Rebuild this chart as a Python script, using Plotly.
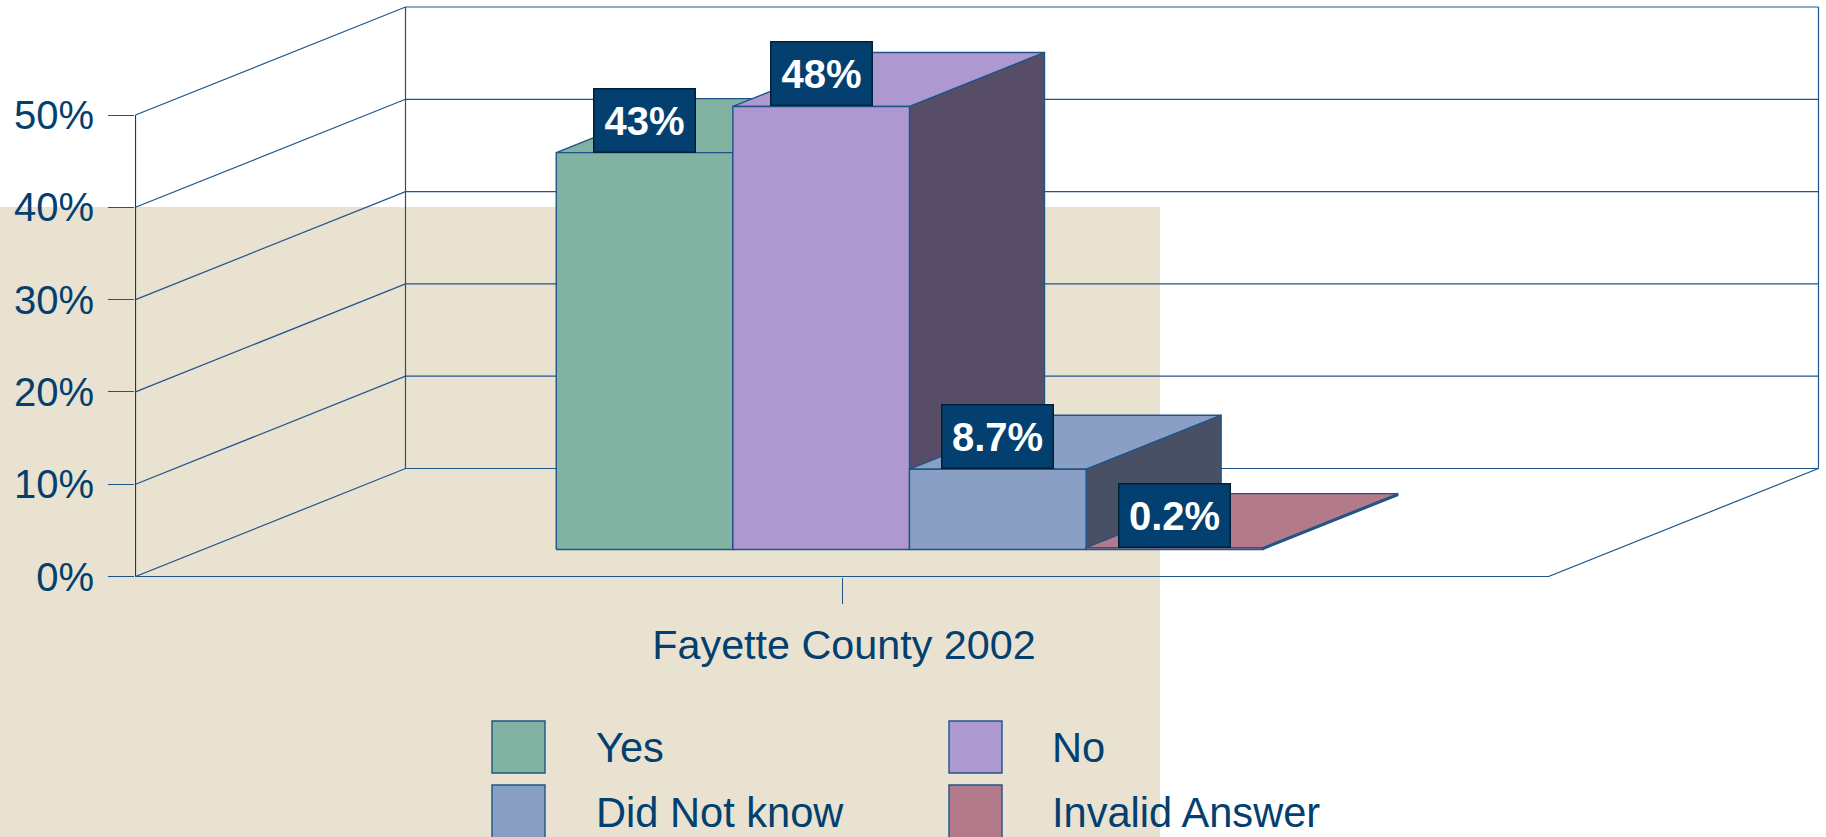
import plotly.graph_objects as go

# ---- data ----
categories = ["Fayette County 2002"]
series_names = ["Yes", "No", "Did Not know", "Invalid Answer"]
series_values = [43, 48, 8.7, 0.2]
value_labels = ["43%", "48%", "8.7%", "0.2%"]
y_ticks = [0, 10, 20, 30, 40, 50]
y_tick_labels = ["0%", "10%", "20%", "30%", "40%", "50%"]

# ---- style ----
front_colors = ["#82B2A1", "#AD98CF", "#8A9FC4", "#B27A8B"]
side_colors = ["#4F6B61", "#574D66", "#475064", "#6B4A54"]
NAVY = "#03406F"
EDGE = "#1F5488"
BEIGE = "#E9E2D0"
FONT = "Liberation Sans, Arial, sans-serif"

W, H = 1826, 837
LEFT, BASE = 135, 577
PX_PER_X = 1413          # pixels per full category width
PX_PER_PCT = 9.23        # pixels per percentage point
HALF_PX_X, HALF_PX_Y = 0.5 / PX_PER_X, 0.5 / PX_PER_PCT   # keeps the axis edges on a pixel
X_MAX = (W - LEFT) / PX_PER_X - HALF_PX_X
Y_MAX = BASE / PX_PER_PCT - HALF_PX_Y
DEPTH_X, DEPTH_Y = 270 / PX_PER_X, 108 / PX_PER_PCT
BAR_W = 0.125            # 4 bars + 100 % gap in the single category
BAR_D0, BAR_D1 = 0.25, 0.75
TOP = y_ticks[-1]


def proj(x, y, d):
    """Oblique projection of (x, value, depth) on the axes."""
    return x + d * DEPTH_X, y + d * DEPTH_Y


def px(xp):
    return (xp - LEFT) / (W - LEFT)


def py(yp):
    return (BASE - yp) / BASE


fig = go.Figure()


def line(pts, width=1.2, color=EDGE):
    fig.add_trace(go.Scatter(x=[p[0] for p in pts], y=[p[1] for p in pts], mode="lines",
                             line=dict(color=color, width=width), hoverinfo="skip",
                             showlegend=False, cliponaxis=False))


def face(pts, color, name):
    pts = pts + [pts[0]]
    fig.add_trace(go.Scatter(x=[p[0] for p in pts], y=[p[1] for p in pts], mode="lines",
                             fill="toself", fillcolor=color,
                             line=dict(color=EDGE, width=1.4), name=name, hoverinfo="name",
                             showlegend=False, cliponaxis=False))


# walls and floor
for t in y_ticks:
    line([proj(0, t, 0), proj(0, t, 1), proj(1, t, 1)])
line([proj(0, 0, 0), proj(0, TOP, 0)], color=NAVY)
line([proj(0, 0, 1), proj(0, TOP, 1)])
line([proj(1, 0, 1), proj(1, TOP, 1)])
line([proj(0, 0, 0), proj(1, 0, 0), proj(1, 0, 1)])

# bars, painted back to front from left to right
start = 0.5 - BAR_W * len(series_values) / 2
annotations = []
for i, (name, v) in enumerate(zip(series_names, series_values)):
    x0, x1 = start + i * BAR_W, start + (i + 1) * BAR_W
    face([proj(x1, 0, BAR_D0), proj(x1, 0, BAR_D1), proj(x1, v, BAR_D1), proj(x1, v, BAR_D0)],
         side_colors[i], name)
    face([proj(x0, v, BAR_D0), proj(x1, v, BAR_D0), proj(x1, v, BAR_D1), proj(x0, v, BAR_D1)],
         front_colors[i], name)
    face([proj(x0, 0, BAR_D0), proj(x1, 0, BAR_D0), proj(x1, v, BAR_D0), proj(x0, v, BAR_D0)],
         front_colors[i], name)
    cx, cy = proj((x0 + x1) / 2, v, BAR_D0)
    annotations.append(dict(
        x=cx, y=cy, xref="x", yref="y", text="<b>%s</b>" % value_labels[i], showarrow=False,
        xanchor="center", yanchor="bottom",
        width=100 if len(value_labels[i]) == 3 else 110, height=62, align="center", valign="middle",
        bgcolor=NAVY, bordercolor="#00203A", borderwidth=1.5, borderpad=0,
        font=dict(family=FONT, size=40, color="white")))

# legend, laid out by hand as in the reference
legend_columns = [(492, 594), (949, 1050)]
legend_rows = [(721, 773, 747), (785, 839, 812)]
shapes = [dict(type="rect", xref="paper", yref="paper", layer="below",
               x0=px(0), x1=px(1160), y0=py(H), y1=py(207),
               fillcolor=BEIGE, line=dict(width=0))]
for i, name in enumerate(series_names):
    sx, tx = legend_columns[i % 2]
    top, bot, mid = legend_rows[i // 2]
    shapes.append(dict(type="rect", xref="paper", yref="paper", layer="above",
                       x0=px(sx), x1=px(sx + 53), y0=py(bot), y1=py(top),
                       fillcolor=front_colors[i], line=dict(color=EDGE, width=1.4)))
    annotations.append(dict(x=px(tx), y=py(mid), xref="paper", yref="paper", text=name,
                            showarrow=False, xanchor="left", yanchor="middle",
                            font=dict(family=FONT, size=41.6, color=NAVY)))

fig.update_layout(
    width=W, height=H, autosize=False,
    margin=dict(l=LEFT, r=0, t=0, b=H - BASE, pad=0),
    paper_bgcolor="white", plot_bgcolor="rgba(0,0,0,0)",
    showlegend=False, shapes=shapes, annotations=annotations,
    font=dict(family=FONT, size=40, color=NAVY),
    xaxis=dict(range=[-HALF_PX_X, X_MAX], tickmode="array", tickvals=[0.5], ticktext=categories,
               ticks="outside", ticklen=26, tickwidth=1.2, tickcolor=EDGE, showgrid=False,
               zeroline=False, showline=False, automargin=False, ticklabelstandoff=5,
               ticklabelshift=2,
               tickfont=dict(family=FONT, size=41.3, color=NAVY), fixedrange=True),
    yaxis=dict(range=[-HALF_PX_Y, Y_MAX], tickmode="array", tickvals=y_ticks, ticktext=y_tick_labels,
               ticks="outside", ticklen=26, tickwidth=1.2, tickcolor=EDGE, showgrid=False,
               zeroline=False, showline=False, automargin=False, ticklabelstandoff=6,
               tickfont=dict(family=FONT, size=40, color=NAVY), fixedrange=True),
)
fig.write_html("out.html", config=dict(displayModeBar=False), default_width="%dpx" % W, default_height="%dpx" % H,
               post_script="document.body.style.margin='0';document.documentElement.style.overflow='hidden';")
